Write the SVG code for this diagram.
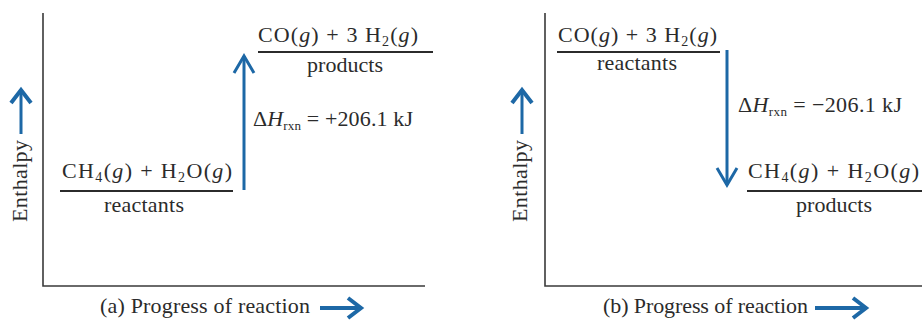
<svg xmlns="http://www.w3.org/2000/svg" width="922" height="321" viewBox="0 0 922 321">
<defs>
<style>
text{font-family:"Liberation Serif","Times New Roman",serif;fill:#2b2b2b;}
.f{font-size:22px;}
.lab{font-size:22px;}
.cap{font-size:22px;}
.ax{stroke:#3a3a3a;stroke-width:1.6;fill:none;}
.lvl{stroke:#2b2b2b;stroke-width:2;fill:none;}
.blue{stroke:#1d68a6;stroke-width:3;fill:none;}
.fat{stroke:#1d68a6;stroke-width:4;fill:none;}
.i{font-style:italic;}
</style>
<marker id="ah" markerUnits="userSpaceOnUse" markerWidth="40" markerHeight="40" viewBox="-20 -20 40 40" refX="0" refY="0" orient="auto">
<path d="M-17,-10 L0,0 L-17,10" stroke="#1d68a6" stroke-width="3" fill="none" stroke-linejoin="miter"/>
</marker>
<marker id="ahf" markerUnits="userSpaceOnUse" markerWidth="40" markerHeight="40" viewBox="-20 -20 40 40" refX="0" refY="0" orient="auto">
<path d="M-13,-10 L0,0 L-13,10" stroke="#1d68a6" stroke-width="4" fill="none"/>
</marker>
</defs>
<rect width="922" height="321" fill="#ffffff"/>

<g id="axes-a">
<path class="ax" d="M43,13 V286 H425"/>
<text class="lab" transform="translate(27,181) rotate(-90)" text-anchor="middle" textLength="82" lengthAdjust="spacing">Enthalpy</text>
<line class="blue" x1="21" y1="134" x2="21" y2="90" marker-end="url(#ahf)"/>
<text class="cap" x="100" y="313" textLength="210" lengthAdjust="spacing">(a) Progress of reaction</text>
<line class="fat" x1="320" y1="308" x2="361" y2="308" marker-end="url(#ahf)"/>
</g>

<g id="a-products">
<text class="f" x="258" y="42" textLength="160" lengthAdjust="spacing">CO(<tspan class="i">g</tspan>) + 3 H<tspan font-size="14" dy="4">2</tspan><tspan dy="-4">(</tspan><tspan class="i">g</tspan>)</text>
<line class="lvl" x1="258" y1="52" x2="433" y2="52"/>
<text class="f" x="307" y="72" textLength="76" lengthAdjust="spacing">products</text>
</g>

<g id="a-reactants">
<text class="f" x="62" y="178" textLength="170" lengthAdjust="spacing">CH<tspan font-size="14" dy="4">4</tspan><tspan dy="-4">(</tspan><tspan class="i">g</tspan>) + H<tspan font-size="14" dy="4">2</tspan><tspan dy="-4">O(</tspan><tspan class="i">g</tspan>)</text>
<line class="lvl" x1="60" y1="191" x2="233" y2="191"/>
<text class="f" x="104" y="212" textLength="80" lengthAdjust="spacing">reactants</text>
</g>

<g id="axes-b">
<path class="ax" d="M545,13 V286 H922"/>
<text class="lab" transform="translate(527,181) rotate(-90)" text-anchor="middle" textLength="82" lengthAdjust="spacing">Enthalpy</text>
<line class="blue" x1="522" y1="134" x2="522" y2="90" marker-end="url(#ahf)"/>
<text class="cap" x="603" y="313" textLength="205" lengthAdjust="spacing">(b) Progress of reaction</text>
<line class="fat" x1="815" y1="308" x2="866" y2="308" marker-end="url(#ahf)"/>
</g>

<g id="b-reactants">
<text class="f" x="558" y="42" textLength="159" lengthAdjust="spacing">CO(<tspan class="i">g</tspan>) + 3 H<tspan font-size="14" dy="4">2</tspan><tspan dy="-4">(</tspan><tspan class="i">g</tspan>)</text>
<line class="lvl" x1="557" y1="52" x2="720" y2="52"/>
<text class="f" x="597" y="70" textLength="80" lengthAdjust="spacing">reactants</text>
</g>

<g id="b-products">
<text class="f" x="748" y="178" textLength="171" lengthAdjust="spacing">CH<tspan font-size="14" dy="4">4</tspan><tspan dy="-4">(</tspan><tspan class="i">g</tspan>) + H<tspan font-size="14" dy="4">2</tspan><tspan dy="-4">O(</tspan><tspan class="i">g</tspan>)</text>
<line class="lvl" x1="747" y1="191" x2="922" y2="191"/>
<text class="f" x="796" y="212" textLength="76" lengthAdjust="spacing">products</text>
</g>

<g id="connectors">
<line class="blue" x1="244" y1="190" x2="244" y2="56" marker-end="url(#ah)"/>
<line class="blue" x1="727" y1="50" x2="727" y2="185" marker-end="url(#ah)"/>
</g>

<g id="dh-a">
<text class="f" x="253" y="126" textLength="160" lengthAdjust="spacing">Δ<tspan class="i">H</tspan><tspan font-size="13" dy="4">rxn</tspan><tspan dy="-4"> = +206.1 kJ</tspan></text>
</g>
<g id="dh-b">
<text class="f" x="738" y="112" textLength="164" lengthAdjust="spacing">Δ<tspan class="i">H</tspan><tspan font-size="13" dy="4">rxn</tspan><tspan dy="-4"> = −206.1 kJ</tspan></text>
</g>
</svg>
